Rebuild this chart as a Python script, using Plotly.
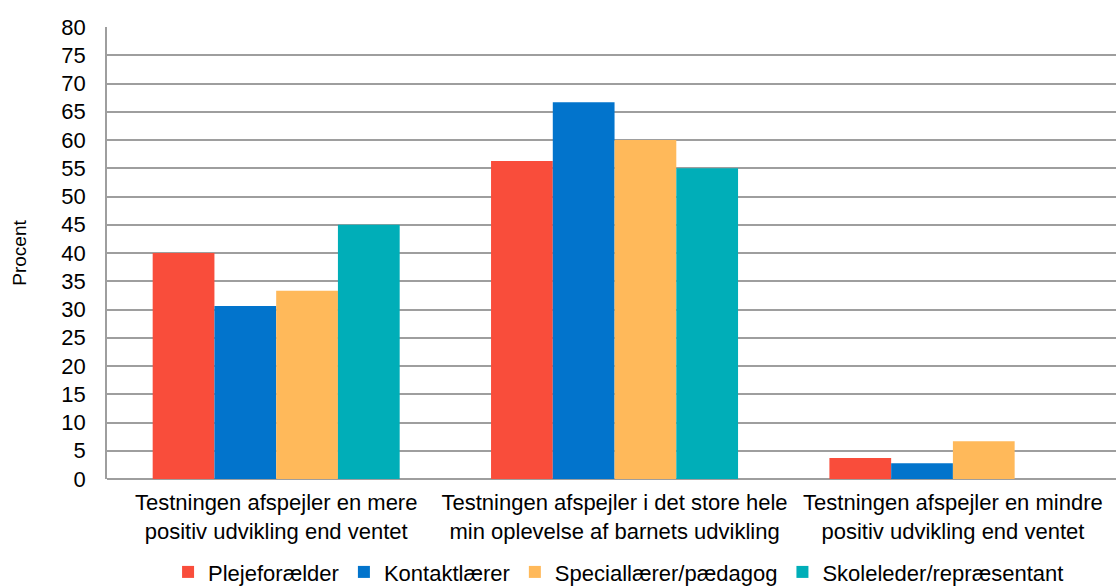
import plotly.graph_objects as go

categories = [
    "Testningen afspejler en mere<br>positiv udvikling end ventet",
    "Testningen afspejler i det store hele<br>min oplevelse af barnets udvikling",
    "Testningen afspejler en mindre<br>positiv udvikling end ventet",
]
series_names = ["Plejeforælder", "Kontaktlærer", "Speciallærer/pædagog", "Skoleleder/repræsentant"]
plejeforaelder = [40.0, 56.3, 3.7]
kontaktlaerer = [30.6, 66.7, 2.8]
speciallaerer = [33.3, 60.0, 6.7]
skoleleder = [45.0, 55.0, 0.0]
colors = ["#F94D3B", "#0274CC", "#FFB95A", "#00AEB8"]

y_ticks = list(range(0, 81, 5))

fig = go.Figure()
for name, vals, col in zip(series_names, [plejeforaelder, kontaktlaerer, speciallaerer, skoleleder], colors):
    fig.add_trace(go.Bar(x=categories, y=vals, name=name, marker=dict(color=col, line=dict(width=0))))

font_family = "Liberation Sans, Arial, sans-serif"
fig.update_layout(
    width=1116, height=588,
    margin=dict(l=107, r=0, t=27, b=109, autoexpand=False),
    paper_bgcolor="white", plot_bgcolor="white",
    barmode="group", bargap=0.27, bargroupgap=0,
    font=dict(family=font_family, size=21, color="#000000"),
    showlegend=True,
    legend=dict(orientation="h", x=0.507, xanchor="center", y=-0.206, yanchor="middle",
                font=dict(size=22), itemclick=False, tracegroupgap=0, itemwidth=30),
)
fig.update_xaxes(
    type="category", range=[-0.5, 2.482], showgrid=False, automargin=False,
    showline=False, ticks="", tickfont=dict(size=22), ticklabelstandoff=8,
)
fig.update_yaxes(
    range=[0, 80], tickvals=y_ticks, ticktext=[str(v) for v in y_ticks], automargin=False,
    showgrid=True, gridcolor="#9E9E9E", gridwidth=1.5,
    zeroline=True, zerolinecolor="#9E9E9E", zerolinewidth=1.5,
    showline=True, linecolor="#9E9E9E", linewidth=1.5,
    ticks="", tickfont=dict(size=22), ticklabelstandoff=15,
    title=dict(text="Procent", font=dict(size=19), standoff=30),
)
fig.write_html("out.html")
